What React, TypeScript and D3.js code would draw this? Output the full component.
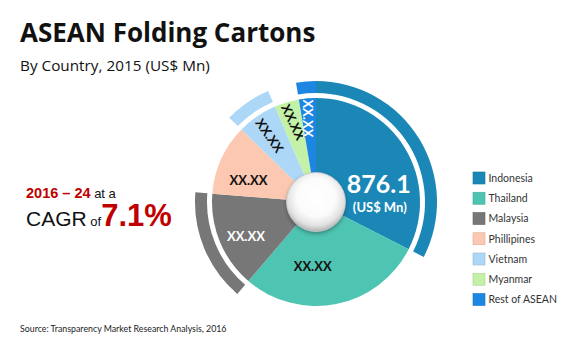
import React from "react";
import * as d3 from "d3";

const categories = ["Indonesia", "Thailand", "Malaysia", "Phillipines", "Vietnam", "Myanmar", "Rest of ASEAN"];
const values = [876.1, 775.0, 404.4, 296.5, 168.5, 103.3, 71.2];
const sliceLabels = ["876.1", "XX.XX", "XX.XX", "XX.XX", "XX.XX", "XX.XX", "XX.XX"];
const colors = ["#1a87b6", "#4ec4b2", "#777777", "#fcc8b1", "#acd7f6", "#c4f1a8", "#1c86e2"];
const outerArcCategories = ["Indonesia", "Malaysia", "Vietnam", "Rest of ASEAN"];
const titleText = "ASEAN Folding Cartons";
const subtitleText = "By Country, 2015 (US$ Mn)";
const unitText = "(US$ Mn)";
const cagrPeriod = "2016 – 24";
const cagrValue = "7.1%";
const sourceText = "Source: Transparency Market Research Analysis, 2016";

// label placement (radius, angle in degrees from 12 o'clock, rotation, text colour)
const labelPlacement: Record<string, [number, number, number, string]> = {
  Indonesia: [63, 85, 0, "#fff"],
  Thailand: [64, 183, 0, "#111"],
  Malaysia: [78, 244, 0, "#fff"],
  Phillipines: [71, 288, 0, "#111"],
  Vietnam: [81, 325, 55, "#111"],
  Myanmar: [83, 344, 65, "#111"],
  "Rest of ASEAN": [84, 354.6, 90, "#fff"],
};

export default function App() {
  const W = 573, H = 346;
  const cx = 316, cy = 202;
  const R = 104;
  const pie = d3.pie<number>().sort(null).startAngle(0).endAngle(2 * Math.PI);
  const arcs = pie(values);
  const arcGen = d3.arc<d3.PieArcDatum<number>>().innerRadius(0).outerRadius(R);
  const outerGen = d3.arc<d3.PieArcDatum<number>>().innerRadius(109).outerRadius(121);
  const color = d3.scaleOrdinal<string, string>().domain(categories).range(colors);
  const legendY = d3.scalePoint<string>().domain(categories).range([178, 299.5]);

  const polar = (r: number, deg: number) => {
    const a = (deg * Math.PI) / 180;
    return [r * Math.sin(a), -r * Math.cos(a)];
  };

  return (
    <svg width={W} height={H} style={{ position: "absolute", left: 0, top: 0, background: "#fff" }}>
      <defs>
        <radialGradient id="knob" cx="50%" cy="42%" r="60%">
          <stop offset="0%" stopColor="#ffffff" />
          <stop offset="55%" stopColor="#fbfbfb" />
          <stop offset="80%" stopColor="#e2e2e2" />
          <stop offset="100%" stopColor="#a9a9a9" />
        </radialGradient>
        <filter id="shadow" x="-50%" y="-50%" width="200%" height="200%">
          <feDropShadow dx="0" dy="2" stdDeviation="2" floodColor="#000" floodOpacity="0.35" />
        </filter>
      </defs>

      <text x={20} y={42} fontFamily="'Open Sans', sans-serif" fontWeight={700} fontSize={26} fill="#111">
        {titleText}
      </text>
      <text x={20} y={70.5} fontFamily="'Open Sans', sans-serif" fontSize={15.3} fill="#111">
        {subtitleText}
      </text>

      <g transform={`translate(${cx},${cy})`}>
        {arcs.map((a, i) => (
          <path key={categories[i]} d={arcGen(a) || ""} fill={color(categories[i])} />
        ))}
        {arcs.map((a, i) =>
          outerArcCategories.includes(categories[i]) ? (
            <path key={"o" + categories[i]} d={outerGen(a) || ""} fill={color(categories[i])} />
          ) : null
        )}
        {arcs.map((a, i) => {
          const cat = categories[i];
          const [r, deg, rot, fill] = labelPlacement[cat];
          const [x, y] = polar(r, deg);
          if (cat === "Indonesia") {
            return (
              <g key={"l" + cat} transform={`translate(${x},${y})`} fill={fill} fontFamily="Lato, sans-serif" fontWeight={700} textAnchor="middle">
                <text y={-4} fontSize={25}>{sliceLabels[i]}</text>
                <text x={1} y={15} fontSize={13}>{unitText}</text>
              </g>
            );
          }
          return (
            <text
              key={"l" + cat}
              transform={`translate(${x},${y}) rotate(${rot})`}
              textAnchor="middle"
              dy="0.36em"
              fontFamily="Lato, sans-serif"
              fontWeight={700}
              fontSize={13}
              fill={fill}
            >
              {sliceLabels[i]}
            </text>
          );
        })}
        <circle r={29.5} fill="url(#knob)" filter="url(#shadow)" />
        <circle r={29.5} fill="none" stroke="#c8c8c8" strokeWidth={0.8} />
      </g>

      <g fontFamily="Arial, 'Liberation Sans', sans-serif">
        <text x={26} y={198.3}>
          <tspan fill="#c00000" fontWeight={700} fontSize={14.5}>{cagrPeriod}</tspan>
          <tspan fill="#111" fontSize={13}> at a</tspan>
        </text>
        <text x={26} y={225.7}>
          <tspan fill="#111" fontSize={21}>CAGR</tspan>
          <tspan fill="#111" fontSize={13}> of</tspan>
          <tspan fill="#c00000" fontWeight={700} fontSize={31}>{cagrValue}</tspan>
        </text>
      </g>

      <g fontFamily="Lato, sans-serif" fontSize={10.5} fill="#333">
        {categories.map((c) => (
          <g key={"lg" + c} transform={`translate(473,${legendY(c)})`}>
            <rect x={0} y={-6} width={12} height={12} fill={color(c)} stroke={d3.color(color(c))!.darker(0.4).toString()} strokeWidth={0.6} />
            <text x={15.5} y={3.8}>{c}</text>
          </g>
        ))}
      </g>

      <text x={20} y={332} fontFamily="Lato, sans-serif" fontSize={8.8} fill="#222">
        {sourceText}
      </text>
    </svg>
  );
}
